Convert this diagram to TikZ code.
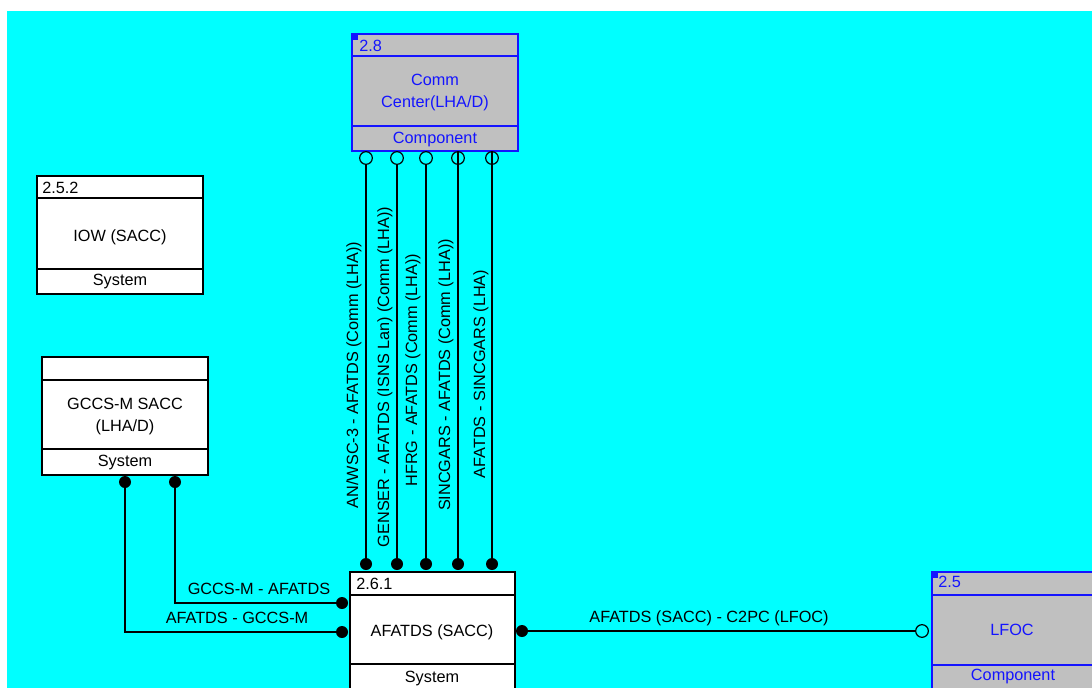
\documentclass[tikz,border=0pt]{standalone}
\usepackage{fontspec}
\setmainfont{Liberation Sans}
\definecolor{bgcyan}{RGB}{0,255,255}
\definecolor{boxgray}{RGB}{192,192,192}
\definecolor{compblue}{RGB}{20,20,255}
\begin{document}
\begin{tikzpicture}[x=0.75pt,y=-0.75pt,
  lbl/.style={font=\fontsize{12.2}{16.5}\selectfont, inner sep=0pt, text=black},
  clbl/.style={lbl, text=compblue},
  sysbox/.style={draw=black, fill=white, line width=0.9pt},
  compbox/.style={draw=compblue, fill=boxgray, line width=1.1pt},
  sysline/.style={draw=black, line width=0.9pt},
  compline/.style={draw=compblue, line width=1.1pt},
  conn/.style={draw=black, line width=1.3pt},
  dot/.style={circle, fill=black, minimum size=9pt, inner sep=0pt},
  hdot/.style={circle, draw=black, line width=0.9pt, fill=none, minimum size=9.5pt, inner sep=0pt},
]
\useasboundingbox (0,0) rectangle (1092,688);
\clip (0,0) rectangle (1092,688);
\fill[white] (0,0) rectangle (1092,688);
\fill[bgcyan] (7,11) rectangle (1092,688);

% Comm Center box
\draw[compbox] (352,34) rectangle (518,151);
\draw[compline] (352,56) -- (518,56) (352,126) -- (518,126);
\fill[compblue] (352,34) rectangle (358,40);
\node[clbl, anchor=west] (commid) at (359,46) {2.8};
\node[clbl, align=center] (comm) at (435,93) {Comm\\Center(LHA/D)};
\node[clbl] (commtype) at (435,140) {Component};

% IOW box
\draw[sysbox] (37,176) rectangle (203,294);
\draw[sysline] (37,198) -- (203,198) (37,269) -- (203,269);
\node[lbl, anchor=west] (iowid) at (42,188) {2.5.2};
\node[lbl] (iow) at (120,237) {IOW (SACC)};
\node[lbl] (iowtype) at (120,282) {System};

% GCCS box
\draw[sysbox] (42,357) rectangle (208,475);
\draw[sysline] (42,380) -- (208,380) (42,449) -- (208,449);
\node[lbl, align=center] (gccs) at (125,417) {GCCS-M SACC\\(LHA/D)};
\node[lbl] (gccstype) at (125,463) {System};

% AFATDS box
\draw[sysbox] (350,572) rectangle (515,700);
\draw[sysline] (350,595) -- (515,595) (350,664) -- (515,664);
\node[lbl, anchor=west] (afaid) at (356,584) {2.6.1};
\node[lbl] (afatds) at (432,632) {AFATDS (SACC)};
\node[lbl] (afatype) at (432,679) {System};

% LFOC box
\draw[compbox] (932,572) rectangle (1100,700);
\draw[compline] (932,595) -- (1100,595) (932,665) -- (1100,665);
\fill[compblue] (932,572) rectangle (938,578);
\node[clbl, anchor=west] (lfocid) at (938,582) {2.5};
\node[clbl] (lfoc) at (1012,630) {LFOC};
\node[clbl] (lfoctype) at (1013,677) {Component};

% ports on Comm Center
\node[hdot] (p1) at (366,158) {};
\node[hdot] (p2) at (397,158) {};
\node[hdot] (p3) at (426,158) {};
\node[hdot] (p4) at (458,158) {};
\node[hdot] (p5) at (492,158) {};
% ports on AFATDS top
\node[dot] (q1) at (366,564) {};
\node[dot] (q2) at (397,564) {};
\node[dot] (q3) at (426,564) {};
\node[dot] (q4) at (458,564) {};
\node[dot] (q5) at (492,564) {};
% GCCS ports
\node[dot] (g1) at (125,482) {};
\node[dot] (g2) at (175,482) {};
% AFATDS left ports
\node[dot] (a1) at (342,603) {};
\node[dot] (a2) at (342,632) {};
% AFATDS right port and LFOC port
\node[dot] (a3) at (522,631) {};
\node[hdot] (f1) at (922,631) {};

% vertical connectors
\draw[conn] (p1) -- (q1.center);
\draw[conn] (p2) -- (q2.center);
\draw[conn] (p3) -- (q3.center);
\draw[conn] ([yshift=-1pt]p4.north) -- (q4.center);
\draw[conn] ([yshift=-1pt]p5.north) -- (q5.center);

\node[lbl, rotate=90] (l1) at (354,375) {AN/WSC-3 - AFATDS (Comm (LHA))};
\node[lbl, rotate=90] (l2) at (385,377) {GENSER - AFATDS (ISNS Lan) (Comm (LHA))};
\node[lbl, rotate=90] (l3) at (413,370) {HFRG - AFATDS (Comm (LHA))};
\node[lbl, rotate=90] (l4) at (446,375) {SINCGARS - AFATDS (Comm (LHA))};
\node[lbl, rotate=90] (l5) at (481,374) {AFATDS - SINCGARS (LHA)};

% GCCS connectors
\draw[conn] (g2.center) |- (a1.center);
\draw[conn] (g1.center) |- (a2.center);
\node[lbl] (lg1) at (259,589) {GCCS-M - AFATDS};
\node[lbl] (lg2) at (237,618) {AFATDS - GCCS-M};

% AFATDS - LFOC connector
\draw[conn] (a3.center) -- (f1);
\node[lbl] (lf) at (709,618) {AFATDS (SACC) - C2PC (LFOC)};
\end{tikzpicture}
\end{document}
